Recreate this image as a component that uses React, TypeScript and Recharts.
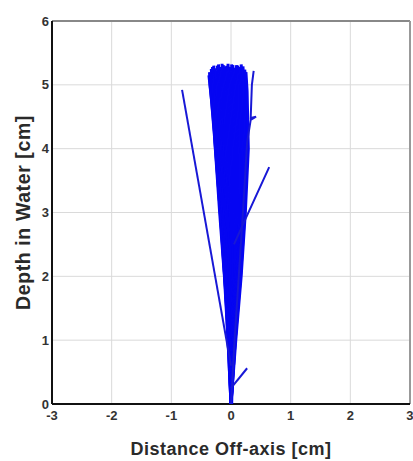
import React from 'react';
import { ScatterChart, Scatter, XAxis, YAxis, CartesianGrid, ReferenceLine } from 'recharts';

const xTicks = [-3, -2, -1, 0, 1, 2, 3];
const yTicks = [0, 1, 2, 3, 4, 5, 6];
const xLabel = 'Distance Off-axis [cm]';
const yLabel = 'Depth in Water [cm]';

// dense fan of trajectories: [x offset (cm), depth (cm)]
const fan1 = [[0, 0], [-0.04, 0.8], [-0.09, 1.8], [-0.17, 2.9], [-0.26, 4.0], [-0.33, 4.8], [-0.37, 5.15]];
const fanA = [[0, 0], [-0.03, 0.9], [-0.1, 1.9], [-0.18, 3.0], [-0.27, 4.2], [-0.35, 5.0], [-0.36, 5.2]];
const fan2 = [[0, 0], [-0.05, 1.0], [-0.11, 2.0], [-0.19, 3.0], [-0.27, 4.1], [-0.31, 4.9], [-0.33, 5.25]];
const fanB = [[0, 0], [-0.04, 1.0], [-0.1, 2.0], [-0.17, 3.0], [-0.24, 4.0], [-0.3, 5.0], [-0.31, 5.28]];
const fan3 = [[0.01, 0], [-0.03, 1.0], [-0.09, 2.1], [-0.15, 3.1], [-0.22, 4.0], [-0.27, 4.9], [-0.29, 5.3]];
const fanC = [[0, 0], [-0.03, 1.0], [-0.08, 2.0], [-0.14, 3.0], [-0.2, 4.0], [-0.25, 5.0], [-0.27, 5.26]];
const fan4 = [[0, 0.1], [-0.02, 1.1], [-0.07, 2.0], [-0.12, 3.0], [-0.18, 4.1], [-0.23, 4.9], [-0.25, 5.22]];
const fanD = [[0, 0], [-0.02, 1.0], [-0.06, 2.0], [-0.11, 3.0], [-0.16, 4.0], [-0.21, 5.0], [-0.23, 5.3]];
const fan5 = [[0, 0], [-0.02, 1.0], [-0.05, 2.0], [-0.09, 3.0], [-0.14, 4.0], [-0.19, 5.0], [-0.21, 5.32]];
const fanE = [[0, 0], [-0.01, 1.0], [-0.04, 2.0], [-0.08, 3.0], [-0.12, 4.0], [-0.17, 5.0], [-0.19, 5.25]];
const fan6 = [[0.01, 0], [0, 1.0], [-0.03, 2.0], [-0.07, 3.1], [-0.11, 4.0], [-0.15, 5.0], [-0.17, 5.28]];
const fanF = [[0, 0], [0, 1.0], [-0.02, 2.0], [-0.05, 3.0], [-0.09, 4.0], [-0.13, 5.0], [-0.15, 5.33]];
const fan7 = [[0, 0], [0, 1.0], [-0.01, 2.0], [-0.04, 3.0], [-0.08, 4.0], [-0.11, 5.0], [-0.13, 5.31]];
const fanG = [[0, 0], [0.01, 1.0], [0, 2.0], [-0.02, 3.0], [-0.06, 4.0], [-0.09, 5.0], [-0.11, 5.29]];
const fan8 = [[0, 0], [0.01, 1.0], [0.01, 2.0], [-0.01, 3.0], [-0.04, 4.0], [-0.07, 5.0], [-0.09, 5.26]];
const fanH = [[0, 0], [0.02, 1.0], [0.02, 2.0], [0, 3.0], [-0.02, 4.0], [-0.05, 5.0], [-0.07, 5.3]];
const fan9 = [[0, 0], [0.02, 1.0], [0.03, 2.0], [0.02, 3.0], [0, 4.0], [-0.03, 5.0], [-0.05, 5.33]];
const fanI = [[0, 0], [0.02, 1.0], [0.04, 2.0], [0.04, 3.0], [0.02, 4.0], [-0.01, 5.0], [-0.03, 5.27]];
const fan10 = [[0, 0], [0.03, 1.0], [0.05, 2.0], [0.05, 3.0], [0.04, 4.0], [0.01, 5.0], [-0.01, 5.28]];
const fanJ = [[0, 0], [0.03, 1.0], [0.06, 2.0], [0.07, 3.0], [0.06, 4.0], [0.03, 5.0], [0.01, 5.32]];
const fan11 = [[0, 0], [0.03, 1.0], [0.07, 2.0], [0.08, 3.0], [0.08, 4.0], [0.05, 5.0], [0.03, 5.31]];
const fanK = [[0, 0], [0.04, 1.0], [0.08, 2.0], [0.1, 3.0], [0.1, 4.0], [0.07, 5.0], [0.05, 5.25]];
const fan12 = [[0.01, 0], [0.04, 1.0], [0.09, 2.0], [0.12, 3.0], [0.12, 4.0], [0.09, 5.0], [0.07, 5.27]];
const fanL = [[0, 0], [0.04, 1.0], [0.1, 2.0], [0.14, 3.0], [0.14, 4.0], [0.11, 5.0], [0.09, 5.31]];
const fan13 = [[0, 0], [0.05, 1.0], [0.11, 2.0], [0.15, 3.0], [0.16, 4.0], [0.13, 5.0], [0.11, 5.3]];
const fanM = [[0, 0], [0.05, 1.0], [0.12, 2.0], [0.17, 3.0], [0.19, 4.0], [0.16, 5.0], [0.13, 5.28]];
const fan14 = [[0, 0], [0.06, 1.0], [0.13, 2.0], [0.19, 3.0], [0.21, 4.0], [0.18, 5.0], [0.15, 5.25]];
const fanN = [[0, 0], [0.06, 1.0], [0.14, 2.0], [0.2, 3.0], [0.23, 4.0], [0.2, 5.0], [0.17, 5.32]];
const fan15 = [[0, 0], [0.07, 1.0], [0.15, 2.0], [0.22, 3.0], [0.25, 4.0], [0.22, 5.0], [0.2, 5.29]];
const fanO = [[0, 0], [0.07, 1.0], [0.16, 2.0], [0.23, 3.0], [0.27, 4.0], [0.25, 5.0], [0.23, 5.24]];
const fan16 = [[0, 0], [0.08, 1.0], [0.17, 2.0], [0.24, 3.0], [0.29, 4.0], [0.27, 4.9], [0.25, 5.2]];
const hookTop = [[0, 0], [0.06, 1.0], [0.13, 2.0], [0.2, 3.0], [0.27, 4.1], [0.33, 4.45], [0.42, 4.5], [0.33, 4.48], [0.35, 5.0], [0.38, 5.22]];

// stray trajectories
const strayLeft = [[0, 0.6], [-0.82, 4.92]];
const strayRight = [[0.05, 2.5], [0.18, 2.77], [0.64, 3.71]];
const strayBottom = [[0, 0.25], [0.27, 0.56]];

const fanSeries = [
  fan1, fanA, fan2, fanB, fan3, fanC, fan4, fanD, fan5, fanE, fan6, fanF, fan7, fanG, fan8, fanH,
  fan9, fanI, fan10, fanJ, fan11, fanK, fan12, fanL, fan13, fanM, fan14, fanN, fan15, fanO, fan16,
];
const straySeries = [hookTop, strayLeft, strayRight, strayBottom];

const toRows = (pts: number[][]) => pts.map(([x, d]) => ({ x, d }));

const FONT = '"Liberation Sans", Arial, sans-serif';
const Empty = () => <g />;

export default function App() {
  return (
    <div style={{ position: 'absolute', left: 0, top: 0, background: '#fff' }}>
      <ScatterChart width={413} height={461} margin={{ top: 21, right: 3, bottom: 0, left: 0 }}>
        <CartesianGrid stroke="#dadada" strokeWidth={1} />
        <XAxis
          type="number"
          dataKey="x"
          domain={[-3, 3]}
          ticks={xTicks}
          allowDataOverflow
          height={57}
          tickLine={false}
          tickSize={0}
          tickMargin={7}
          axisLine={{ stroke: '#111', strokeWidth: 2 }}
          tick={{ fontFamily: FONT, fontSize: 13, fontWeight: 'bold', fill: '#333' }}
          label={{
            value: xLabel,
            position: 'insideBottom',
            offset: 6,
            style: { fontFamily: FONT, fontSize: 18, fontWeight: 'bold', fill: '#2a2a2a', letterSpacing: 0.5 },
          }}
        />
        <YAxis
          type="number"
          dataKey="d"
          domain={[0, 6]}
          ticks={yTicks}
          allowDataOverflow
          width={52}
          tickLine={false}
          tickSize={0}
          tickMargin={3}
          axisLine={{ stroke: '#111', strokeWidth: 2 }}
          tick={{ fontFamily: FONT, fontSize: 13, fontWeight: 'bold', fill: '#333' }}
          label={{
            value: yLabel,
            angle: -90,
            position: 'insideLeft',
            offset: 23,
            style: { textAnchor: 'middle', fontFamily: FONT, fontSize: 19.5, fontWeight: 'bold', fill: '#2a2a2a', letterSpacing: 0.6 },
          }}
        />
        <ReferenceLine y={6} stroke="#888" strokeWidth={2} />
        <ReferenceLine x={3} stroke="#999" strokeWidth={2} />
        {fanSeries.map((s, i) => (
          <Scatter
            key={'f' + i}
            data={toRows(s)}
            line={{ stroke: '#0606f2', strokeWidth: 3 }}
            lineType="joint"
            shape={Empty}
            isAnimationActive={false}
          />
        ))}
        {straySeries.map((s, i) => (
          <Scatter
            key={'s' + i}
            data={toRows(s)}
            line={{ stroke: '#1818d6', strokeWidth: 2 }}
            lineType="joint"
            shape={Empty}
            isAnimationActive={false}
          />
        ))}
      </ScatterChart>
    </div>
  );
}
